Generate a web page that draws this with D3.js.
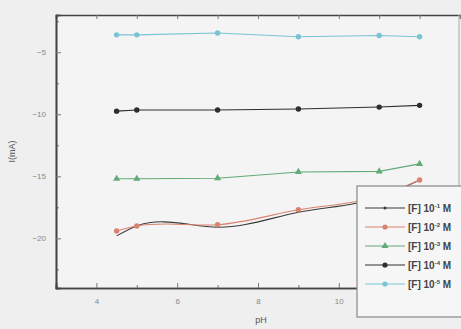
<!DOCTYPE html>
<html>
<head>
<meta charset="utf-8">
<script src="https://cdn.jsdelivr.net/npm/d3@7"></script>
<style>
  body { margin: 0; background: #efefef; }
  svg { display: block; font-family: "Liberation Sans", Arial, sans-serif; }
</style>
</head>
<body>
<div id="chart"></div>
<script>
// data
const ph = [4.5, 5, 7, 9, 11, 12];
const conc1 = [-19.8, -19.0, -19.1, -17.9, -16.7, -15.3];
const conc2 = [-19.4, -19.0, -18.9, -17.7, -16.6, -15.3];
const conc3 = [-15.2, -15.2, -15.15, -14.65, -14.6, -14.0];
const conc4 = [-9.75, -9.66, -9.66, -9.58, -9.42, -9.28];
const conc5 = [-3.6, -3.6, -3.45, -3.75, -3.65, -3.75];
const labels = ["[F] 10", "[F] 10", "[F] 10", "[F] 10", "[F] 10"];
const exps = ["-1", "-2", "-3", "-4", "-5"];
const xTicks = [4, 6, 8, 10];
const yTicks = [-5, -10, -15, -20];

const W = 461, H = 329;
const margin = { top: 15, right: 1, bottom: 41, left: 56 };

// natural cubic spline y(x), written out as bezier segments (like Origin's spline line)
function curveSplineX(context) {
  let xs, ys;
  return {
    areaStart() {}, areaEnd() {},
    lineStart() { xs = []; ys = []; },
    point(px, py) { xs.push(+px); ys.push(+py); },
    lineEnd() {
      const n = xs.length;
      if (!n) return;
      context.moveTo(xs[0], ys[0]);
      if (n < 3) { for (let i = 1; i < n; i++) context.lineTo(xs[i], ys[i]); return; }
      const h = d3.range(n - 1).map(i => xs[i + 1] - xs[i]);
      const a = new Array(n).fill(0), b = new Array(n).fill(1), c = new Array(n).fill(0), r = new Array(n).fill(0);
      for (let i = 1; i < n - 1; i++) {
        a[i] = h[i - 1]; b[i] = 2 * (h[i - 1] + h[i]); c[i] = h[i];
        r[i] = 6 * ((ys[i + 1] - ys[i]) / h[i] - (ys[i] - ys[i - 1]) / h[i - 1]);
      }
      for (let i = 1; i < n; i++) {
        const m = a[i] / b[i - 1];
        b[i] -= m * c[i - 1]; r[i] -= m * r[i - 1];
      }
      const M = new Array(n).fill(0);
      M[n - 1] = r[n - 1] / b[n - 1];
      for (let i = n - 2; i >= 0; i--) M[i] = (r[i] - c[i] * M[i + 1]) / b[i];
      M[0] = 0; M[n - 1] = 0;
      const slope = i => i < n - 1
        ? (ys[i + 1] - ys[i]) / h[i] - h[i] * (2 * M[i] + M[i + 1]) / 6
        : (ys[i] - ys[i - 1]) / h[i - 1] + h[i - 1] * (M[i - 1] + 2 * M[i]) / 6;
      for (let i = 0; i < n - 1; i++) {
        const d = h[i] / 3;
        context.bezierCurveTo(xs[i] + d, ys[i] + slope(i) * d,
          xs[i + 1] - d, ys[i + 1] - slope(i + 1) * d, xs[i + 1], ys[i + 1]);
      }
    }
  };
}

const series = [
  { vals: conc1, color: "#3a3a3a", mark: "none", curve: curveSplineX },
  { vals: conc2, color: "#d9826f", mark: "circle", curve: curveSplineX },
  { vals: conc3, color: "#62aa76", mark: "triangle", curve: d3.curveLinear },
  { vals: conc4, color: "#2e2e2e", mark: "circle", curve: d3.curveLinear },
  { vals: conc5, color: "#78c4d3", mark: "circle", curve: d3.curveLinear }
];

const svg = d3.select("#chart").append("svg")
  .attr("width", W).attr("height", H);

const x = d3.scaleLinear().domain([3, 13]).range([margin.left, W - margin.right]);
const y = d3.scaleLinear().domain([-24, -2]).range([H - margin.bottom, margin.top]);

// plot background
svg.append("rect")
  .attr("x", x(3)).attr("y", y(-2))
  .attr("width", x(13) - x(3)).attr("height", y(-24) - y(-2))
  .attr("fill", "#f4f4f4");

// axes with inward ticks
const axisStyle = g => {
  g.selectAll("path").attr("stroke", "#444").attr("stroke-width", 1.6);
  g.selectAll("line").attr("stroke", "#777");
  g.selectAll("text").attr("fill", "#888").style("font-size", "8px");
};

svg.append("g")
  .attr("transform", `translate(0,${y(-24)})`)
  .call(d3.axisBottom(x).tickValues([5, 7, 9]).tickSize(-3).tickFormat(""))
  .call(axisStyle);
svg.append("g")
  .attr("transform", `translate(0,${y(-24)})`)
  .call(d3.axisBottom(x).tickValues(xTicks).tickSize(-5).tickPadding(10).tickFormat(d3.format("d")))
  .call(axisStyle);

svg.append("g")
  .attr("transform", `translate(0,${y(-2)})`)
  .call(d3.axisTop(x).ticks(10).tickSize(-4).tickFormat(""))
  .call(axisStyle);

svg.append("g")
  .attr("transform", `translate(${x(3)},0)`)
  .call(d3.axisLeft(y).tickValues([-2.5, -7.5, -12.5, -17.5, -22.5]).tickSize(-3).tickFormat(""))
  .call(axisStyle);
svg.append("g")
  .attr("transform", `translate(${x(3)},0)`)
  .call(d3.axisLeft(y).tickValues(yTicks).tickSize(-5).tickPadding(10).tickFormat(d3.format("d")))
  .call(axisStyle);

// right frame
svg.append("line")
  .attr("x1", x(13) - 1).attr("x2", x(13) - 1)
  .attr("y1", y(-2)).attr("y2", y(-24))
  .attr("stroke", "#aaa").attr("stroke-width", 1);

// axis titles
svg.append("text")
  .attr("x", (x(3) + x(13)) / 2 + 3).attr("y", H - 6)
  .attr("text-anchor", "middle")
  .attr("fill", "#555").style("font-size", "9px")
  .text("pH");
svg.append("text")
  .attr("transform", `translate(15,${(y(-2) + y(-24)) / 2}) rotate(-90)`)
  .attr("text-anchor", "middle")
  .attr("fill", "#555").style("font-size", "9px")
  .text("I(mA)");

// lines and markers
const triangle = d3.symbol().type(d3.symbolTriangle).size(22);

series.forEach(s => {
  const pts = ph.map((p, i) => [p, s.vals[i]]);
  const line = d3.line().curve(s.curve).x(d => x(d[0])).y(d => y(d[1]));
  svg.append("path")
    .attr("d", line(pts))
    .attr("fill", "none")
    .attr("stroke", s.color)
    .attr("stroke-width", 1.1);
  if (s.mark === "circle") {
    svg.selectAll(null).data(pts).join("circle")
      .attr("cx", d => x(d[0])).attr("cy", d => y(d[1]))
      .attr("r", 2.7).attr("fill", s.color);
  } else if (s.mark === "triangle") {
    svg.selectAll(null).data(pts).join("path")
      .attr("transform", d => `translate(${x(d[0])},${y(d[1])})`)
      .attr("d", triangle).attr("fill", s.color);
  }
});

// legend
const lg = svg.append("g").attr("transform", "translate(357,186)");
lg.append("rect")
  .attr("width", 110).attr("height", 131)
  .attr("fill", "#f6f6f6").attr("stroke", "#888").attr("stroke-width", 1.2);

series.forEach((s, i) => {
  const row = lg.append("g").attr("transform", `translate(0,${22 + i * 19})`);
  row.append("line")
    .attr("x1", 8).attr("x2", 48)
    .attr("stroke", s.color).attr("stroke-width", 1);
  if (s.mark === "circle") {
    row.append("circle").attr("cx", 28).attr("r", 2.6).attr("fill", s.color);
  } else if (s.mark === "triangle") {
    row.append("path").attr("transform", "translate(28,0)").attr("d", triangle).attr("fill", s.color);
  } else {
    row.append("circle").attr("cx", 28).attr("r", 1.5).attr("fill", s.color);
  }
  const t = row.append("text")
    .attr("x", 51).attr("y", 4)
    .attr("fill", "#444").style("font-size", "10px").style("font-weight", "bold");
  t.append("tspan").text(labels[i]);
  t.append("tspan").attr("dy", -4).style("font-size", "6px").text(exps[i]);
  t.append("tspan").attr("dy", 4).text(" M");
});
</script>
</body>
</html>
